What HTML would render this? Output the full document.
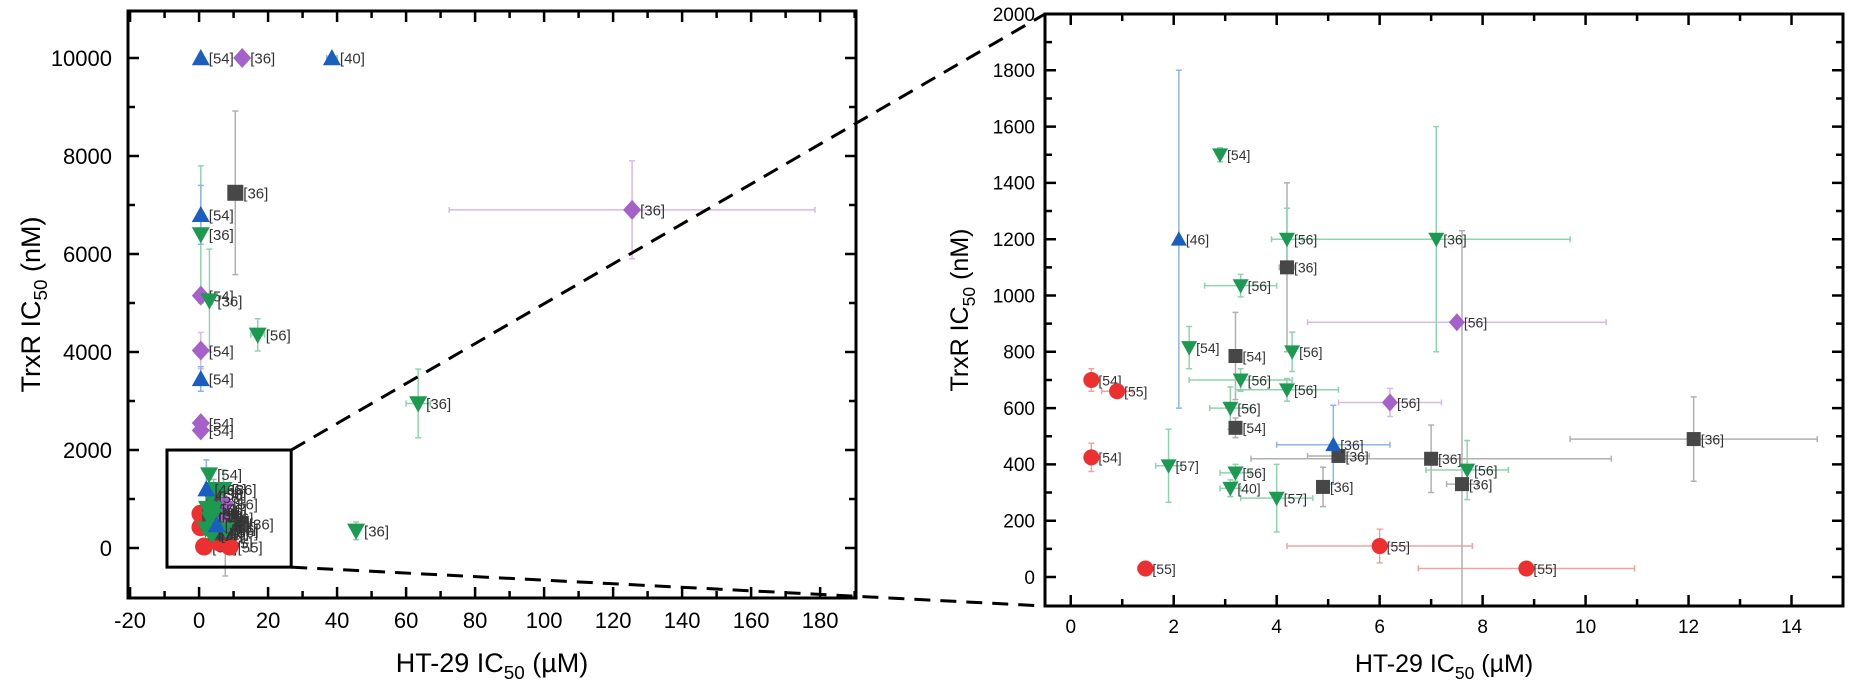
<!DOCTYPE html>
<html><head><meta charset="utf-8"><style>
html,body{margin:0;background:#fff;width:1849px;height:690px;overflow:hidden}
svg{display:block;font-family:"Liberation Sans",sans-serif}
</style></head><body>
<svg id="chart" width="1849" height="690" viewBox="0 0 1849 690"></svg>
<script>
// ---- data (HT-29 IC50 µM, TrxR IC50 nM) ----
const circleX=[0.4,0.9,0.4,1.45,6.0,8.85];
const circleY=[700,660,425,30,110,30];
const circleXErr=[0,0.3,0,0.15,1.8,2.1];
const circleYErr=[40,0,50,0,60,0];
const circleLab=["[54]","[55]","[54]","[55]","[55]","[55]"];

const upX=[2.1,5.1,0.5,38.5,0.5,0.5];
const upY=[1200,470,10000,10000,6800,3450];
const upXErr=[0,1.1,0,1.5,0,0];
const upYErr=[600,140,0,0,600,250];
const upLab=["[46]","[36]","[54]","[40]","[54]","[54]"];

const downX=[2.9,4.2,7.1,3.3,2.3,4.3,3.3,4.2,3.1,1.9,3.2,3.1,4.0,7.7,0.5,3,17,63.5,45.5];
const downY=[1500,1200,1200,1035,815,800,700,665,600,395,370,315,280,380,6400,5050,4350,2950,350];
const downXErr=[0,0.3,2.6,0.7,0,0,1.0,1.0,0.4,0.25,0.3,0.2,0.7,0.8,0,0,2,3.5,0];
const downYErr=[25,110,400,40,75,70,40,40,75,130,30,30,120,105,1400,1050,330,700,180];
const downLab=["[54]","[56]","[36]","[56]","[54]","[56]","[56]","[56]","[56]","[57]","[56]","[40]","[57]","[56]","[36]","[36]","[56]","[36]","[36]"];

const sqX=[4.2,3.2,3.2,5.2,7.0,4.9,7.6,12.1,10.5];
const sqY=[1100,785,530,430,420,320,330,490,7250];
const sqXErr=[0.15,0.1,0.1,0.6,3.5,0,0.3,2.4,0];
const sqYErr=[300,155,35,0,120,70,900,150,1670];
const sqLab=["[36]","[54]","[54]","[36]","[36]","[36]","[36]","[36]","[36]"];

const diaX=[7.5,6.2,12.5,125.5,0.5,0.5,0.5,0.5];
const diaY=[905,620,10000,6900,5150,4030,2550,2400];
const diaXErr=[2.9,1.0,0,53,0,0,0,0];
const diaYErr=[0,50,0,1000,0,370,0,0];
const diaLab=["[56]","[56]","[36]","[36]","[54]","[54]","[54]","[54]"];

const leftXTicks=[-20,0,20,40,60,80,100,120,140,160,180];
const leftYTicks=[0,2000,4000,6000,8000,10000];
const rightXTicks=[0,2,4,6,8,10,12,14];
const rightYTicks=[0,200,400,600,800,1000,1200,1400,1600,1800,2000];

const NS="http://www.w3.org/2000/svg";
const svg=document.getElementById('chart');
function el(tag,attrs,parent,txt){const e=document.createElementNS(NS,tag);for(const k in attrs)e.setAttribute(k,attrs[k]);if(txt!==undefined)e.textContent=txt;(parent||svg).appendChild(e);return e;}

const series=[
 {name:'circle',X:circleX,Y:circleY,XE:circleXErr,YE:circleYErr,L:circleLab,fill:'#ec2f2f',err:'#f3a2a2'},
 {name:'square',X:sqX,Y:sqY,XE:sqXErr,YE:sqYErr,L:sqLab,fill:'#474747',err:'#b0b0b0'},
 {name:'diamond',X:diaX,Y:diaY,XE:diaXErr,YE:diaYErr,L:diaLab,fill:'#a560c9',err:'#d9b8ea'},
 {name:'down',X:downX,Y:downY,XE:downXErr,YE:downYErr,L:downLab,fill:'#1c9a52',err:'#8fd4ae'},
 {name:'up',X:upX,Y:upY,XE:upXErr,YE:upYErr,L:upLab,fill:'#1a5fc0',err:'#8fb5e2'}
];

function marker(g,shape,cx,cy,r,fill){
  let m;
  if(shape==='circle')m=el('circle',{cx,cy,r:r,fill},g);
  else if(shape==='square')m=el('rect',{x:cx-r+1,y:cy-r+1,width:2*r-2,height:2*r-2,fill},g);
  else if(shape==='diamond')m=el('polygon',{points:`${cx},${cy-r-1} ${cx+r},${cy} ${cx},${cy+r+1} ${cx-r},${cy}`,fill},g);
  else if(shape==='down')m=el('polygon',{points:`${cx-r},${cy-r*0.8} ${cx+r},${cy-r*0.8} ${cx},${cy+r}`,fill},g);
  else m=el('polygon',{points:`${cx-r},${cy+r*0.8} ${cx+r},${cy+r*0.8} ${cx},${cy-r}`,fill},g);
  return m;
}

function plot(cfg){
  const g=el('g',{});
  
  
  const {L,R,T,B,x0,x1,y0,y1}=cfg;
  const sx=v=>L+(v-x0)/(x1-x0)*(R-L);
  const sy=v=>B-(v-y0)/(y1-y0)*(B-T);
  const clipId=cfg.name+'-clip';
  const cp=el('clipPath',{id:clipId},g);el('rect',{x:L,y:T,width:R-L,height:B-T},cp);
  const dg=el('g',{'clip-path':`url(#${clipId})`},g);
  
  
  series.forEach(s=>{
    for(let i=0;i<s.X.length;i++){
      const cx=sx(s.X[i]),cy=sy(s.Y[i]);
      if(s.XE[i]>0){const a=sx(s.X[i]-s.XE[i]),b=sx(s.X[i]+s.XE[i]);
        const p=el('path',{d:`M${a},${cy}H${b}M${a},${cy-3}v6M${b},${cy-3}v6`,stroke:s.err,'stroke-width':1.5,fill:'none'},dg);
        
        }
      if(s.YE[i]>0){const a=sy(s.Y[i]-s.YE[i]),b=sy(s.Y[i]+s.YE[i]);
        const p=el('path',{d:`M${cx},${a}V${b}M${cx-3},${a}h6M${cx-3},${b}h6`,stroke:s.err,'stroke-width':1.5,fill:'none'},dg);
        
        }
    }
  });
  series.forEach(s=>{
    for(let i=0;i<s.X.length;i++){
      const cx=sx(s.X[i]),cy=sy(s.Y[i]);
      const m=marker(dg,s.name,cx,cy,cfg.r,s.fill);
      
      
      const t=el('text',{x:cx+cfg.r-1,y:cy+cfg.fs*0.38,'font-size':cfg.fs,fill:'#333'},dg,s.L[i]);
      
      
    }
  });
  const fr=el('rect',{x:L,y:T,width:R-L,height:B-T,fill:'none',stroke:'#000','stroke-width':3},g);
  
  
  let d='';
  const xs=cfg.xt, ys=cfg.yt;
  const xstep=(xs[1]-xs[0])/2, ystep=(ys[1]-ys[0])/2;
  for(let v=xs[0];v<=x1;v+=xstep){const X=sx(v);if(X<L+1||X>R-1)continue;const len=(Math.round((v-xs[0])/xstep)%2===0)?11:7;d+=`M${X},${B}v${-len}M${X},${T}v${len}`;}
  for(let v=ys[0];v<=y1;v+=ystep){const Y=sy(v);if(Y<T+1||Y>B-1)continue;const len=(Math.round((v-ys[0])/ystep)%2===0)?11:7;d+=`M${L},${Y}h${len}M${R},${Y}h${-len}`;}
  const tk=el('path',{d,stroke:'#000','stroke-width':2.5,fill:'none'},g);
  
  
  xs.forEach(v=>{const t=el('text',{x:sx(v),y:B+cfg.tfs+8,'font-size':cfg.tfs,'text-anchor':'middle'},g,String(v));
    
    });
  ys.forEach(v=>{const t=el('text',{x:L-cfg.ylOff,y:sy(v)+cfg.tfs*0.36,'font-size':cfg.tfs,'text-anchor':'end'},g,String(v));
    
    });
  const xt=el('text',{x:(L+R)/2,y:cfg.xtY,'font-size':cfg.afs,'text-anchor':'middle'},g);
  
  
  el('tspan',{},xt,'HT-29 IC');el('tspan',{dy:7,'font-size':cfg.afs*0.7},xt,'50');el('tspan',{dy:-7},xt,' (µM)');
  const yt=el('text',{transform:`translate(${cfg.ytX},${(T+B)/2}) rotate(-90)`,'font-size':cfg.afs,'text-anchor':'middle'},g);
  
  
  el('tspan',{},yt,'TrxR IC');el('tspan',{dy:7,'font-size':cfg.afs*0.7},yt,'50');el('tspan',{dy:-7},yt,' (nM)');
  return {sx,sy};
}

const left=plot({name:'overview-plot',L:128,R:856,T:11,B:598,x0:-20.6,x1:190.4,y0:-1020,y1:10960,xt:leftXTicks,yt:leftYTicks,r:9,fs:15,tfs:22,afs:27,ylOff:16,xtY:672,ytX:40});
const right=plot({name:'zoomed-plot',L:1045,R:1843,T:14,B:606,x0:-0.5,x1:15,y0:-103,y1:2000,xt:rightXTicks,yt:rightYTicks,r:8,fs:14,tfs:19,afs:25,ylOff:10,xtY:672,ytX:968});

const bx0=left.sx(-9.3),bx1=left.sx(26.7),by0=left.sy(2000),by1=left.sy(-390);
const zb=el('rect',{x:bx0,y:by0,width:bx1-bx0,height:by1-by0,fill:'none',stroke:'#000','stroke-width':3});


const c1=el('line',{x1:bx1,y1:by0,x2:1045,y2:14,stroke:'#000','stroke-width':3,'stroke-dasharray':'16,10'});


const c2=el('line',{x1:bx1,y1:by1,x2:1045,y2:606,stroke:'#000','stroke-width':3,'stroke-dasharray':'16,10'});


</script>
</body></html>
